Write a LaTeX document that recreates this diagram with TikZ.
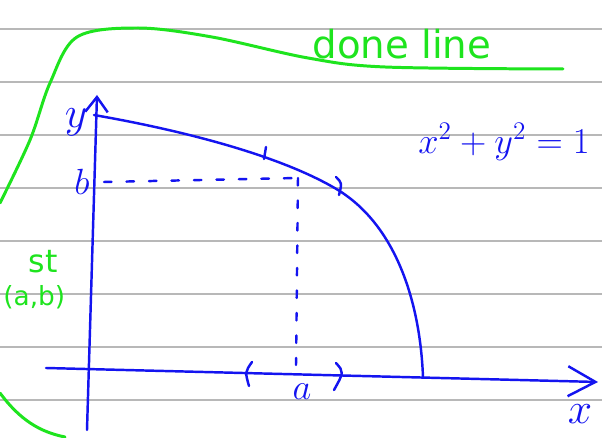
\documentclass[tikz,border=0pt]{standalone}
\usepackage{fontspec}
\setmainfont{DejaVu Sans}
\usepackage{xcolor}
\usetikzlibrary{arrows.meta, positioning}
\definecolor{penblue}{RGB}{20,20,240}
\definecolor{pengreen}{RGB}{30,228,30}

\begin{document}
\begin{tikzpicture}[
    x=0.02cm, y=-0.02cm,
    ink/.style={draw=penblue, line width=1.4pt, line cap=round, line join=round},
    marker/.style={draw=pengreen, line width=1.7pt, line cap=round, line join=round},
    ruling/.style={draw=black!28, line width=0.8pt},
    dashes/.style={ink, dash pattern=on 0.15cm off 0.3cm},
    bluetext/.style={text=penblue, inner sep=0pt},
    greentext/.style={text=pengreen, inner sep=0pt},
]
    % Page
    \fill[white] (0,0) rectangle (602,438);
    \useasboundingbox (0,0) rectangle (602,438);
    \foreach \y in {29,82,...,400}
        \draw[ruling] (0,\y) -- (602,\y);

    % Axes
    \coordinate (ybot) at (87,430);
    \coordinate (ytop) at (97,95);
    \coordinate (xleft) at (46,368);
    \coordinate (xright) at (598,382);
    \draw[ink, -{Straight Barb[length=3mm, width=4.5mm]}] (ybot) -- (ytop);
    \draw[ink, -{Straight Barb[length=5.5mm, width=6mm]}] (xleft) -- (xright);
    \node[bluetext, font=\fontsize{26}{26}\selectfont] (ylab) at (76,122) {$y$};
    \node[bluetext, font=\fontsize{26}{26}\selectfont] (xlab) at (580,414) {$x$};

    % Curve
    \draw[ink] (94,115) .. controls (180,130) and (280,155) .. (338,190)
                        .. controls (395,225) and (420,300) .. (423,377);
    \draw[ink] (266,147) -- (264,159);
    \draw[ink] (336,177) .. controls (342,183) .. (339,195);
    \node[bluetext, font=\fontsize{21}{21}\selectfont] (eqn) at (504,142) {$x^2+y^2=1$};

    % Point (a,b)
    \coordinate (bpt) at (104,182);
    \coordinate (corner) at (298,178);
    \coordinate (apt) at (296,365);
    \draw[dashes] (bpt) -- (corner);
    \draw[dashes] (corner) -- (apt);
    \node[bluetext, font=\fontsize{20}{20}\selectfont] (blab) at (82,182) {$b$};
    \node[bluetext, font=\fontsize{20}{20}\selectfont] (alab) at (302,392) {$a$};
    \draw[ink] (252,362) .. controls (245,372) .. (249,386);
    \draw[ink] (336,363) .. controls (344,372) .. (334,390);

    % Notes
    \draw[marker] plot[smooth, tension=0.55] coordinates
        {(0,203) (30,140) (50,83) (77,37) (138,28) (212,37) (308,58) (385,67) (563,69)};
    \draw[marker] (0,393) .. controls (20,420) and (40,432) .. (65,437);
    \node[greentext, font=\fontsize{22}{22}\selectfont] (done) at (402,44) {done line};
    \node[greentext, font=\fontsize{18}{18}\selectfont, anchor=east] (near) at (58,262) {st};
    \node[greentext, font=\fontsize{15}{15}\selectfont, anchor=west] (pt) at (3,297) {(a,b)};
\end{tikzpicture}
\end{document}
